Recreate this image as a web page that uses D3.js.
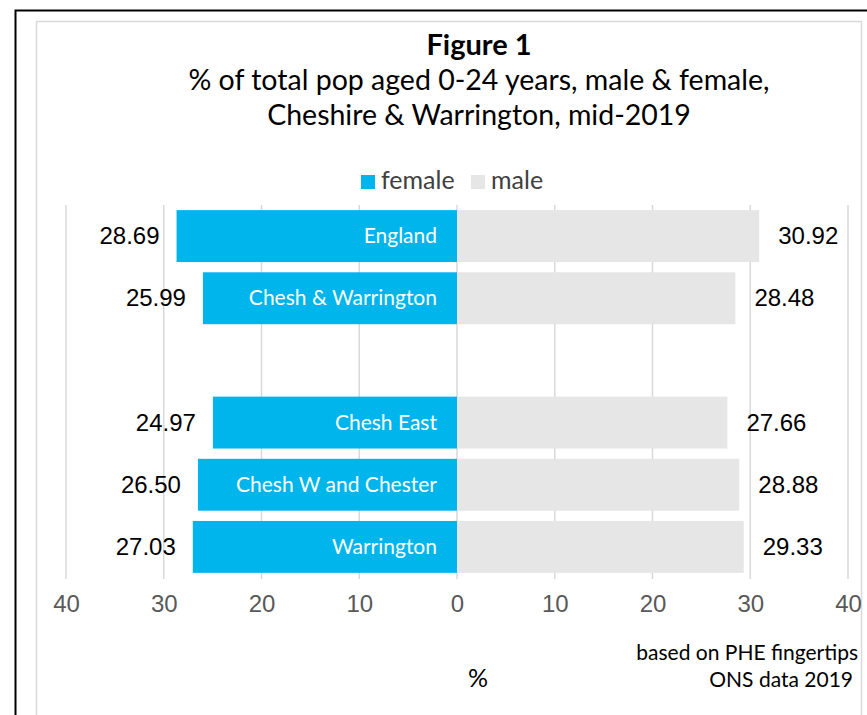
<!DOCTYPE html>
<html>
<head>
<meta charset="utf-8">
<script src="https://cdnjs.cloudflare.com/ajax/libs/d3/7.8.5/d3.min.js"></script>
<style>
body { margin: 0; background: #fff; }
svg { display: block; }
</style>
</head>
<body>
<script>
var categories = ["England", "Chesh & Warrington", "", "Chesh East", "Chesh W and Chester", "Warrington"];
var female = [28.69, 25.99, null, 24.97, 26.50, 27.03];
var male = [30.92, 28.48, null, 27.66, 28.88, 29.33];
var ticks = [-40, -30, -20, -10, 0, 10, 20, 30, 40];

var width = 867, height = 715;
var plot = {top: 205, bottom: 578, left: 66, right: 848};

var svg = d3.select("body")
	.append("svg")
		.attr("width", width)
		.attr("height", height);

// outer black frame + inner grey chart border
svg.append("path")
	.attr("d", "M15.5," + height + "V10.5H" + width)
	.attr("fill", "none")
	.attr("stroke", "#000")
	.attr("stroke-width", 2);
svg.append("rect")
	.attr("x", 36.5).attr("y", 21.5)
	.attr("width", 825).attr("height", 700)
	.attr("fill", "none")
	.attr("stroke", "#d9d9d9")
	.attr("stroke-width", 1.5);

var rows = categories.map((c, i) => { return {name: c, key: "c" + i, f: female[i], m: male[i]}; });

var x = d3.scaleLinear()
	.domain([-40, 40])
	.range([plot.left, plot.right]);

var y = d3.scaleBand()
	.domain(rows.map((d) => { return d.key; }))
	.range([plot.top, plot.bottom])
	.paddingInner(0.165)
	.paddingOuter(0.0825);

// gridlines
svg.append("g")
	.selectAll("line").data(ticks).enter()
	.append("line")
		.attr("x1", (d) => { return x(d); })
		.attr("x2", (d) => { return x(d); })
		.attr("y1", plot.top)
		.attr("y2", plot.bottom + 1)
		.attr("stroke", "#d9d9d9")
		.attr("stroke-width", 1.5);

// axis
var bottomAxis = d3.axisBottom(x)
	.tickValues(ticks)
	.tickSize(0)
	.tickPadding(17)
	.tickFormat((d) => { return Math.abs(d); });

var ax = svg.append("g")
	.attr("transform", "translate(0," + plot.bottom + ")")
	.call(bottomAxis);
ax.select(".domain").remove();
ax.selectAll("text")
	.attr("font-family", "'Liberation Sans', Arial, sans-serif")
	.attr("font-size", "24px")
	.attr("fill", "#595959");

var data = rows.filter((d) => { return d.f != null; });

// female bars
svg.selectAll("rect.female").data(data).enter()
	.append("rect")
		.attr("class", "female")
		.attr("x", (d) => { return x(-d.f); })
		.attr("y", (d) => { return y(d.key); })
		.attr("width", (d) => { return x(0) - x(-d.f); })
		.attr("height", y.bandwidth())
		.attr("fill", "#00b5eb");

// male bars
svg.selectAll("rect.male").data(data).enter()
	.append("rect")
		.attr("class", "male")
		.attr("x", x(0))
		.attr("y", (d) => { return y(d.key); })
		.attr("width", (d) => { return x(d.m) - x(0); })
		.attr("height", y.bandwidth())
		.attr("fill", "#e6e6e6");

// category labels inside female bars
svg.selectAll("text.cat").data(data).enter()
	.append("text")
		.attr("class", "cat")
		.attr("x", x(0) - 20)
		.attr("y", (d) => { return y(d.key) + y.bandwidth() / 2 + 7; })
		.attr("text-anchor", "end")
		.attr("font-family", "Lato, sans-serif")
		.attr("font-size", "21px")
		.attr("fill", "#fff")
		.text((d) => { return d.name; });

// value labels
svg.selectAll("text.fval").data(data).enter()
	.append("text")
		.attr("class", "fval")
		.attr("x", (d) => { return x(-d.f) - 17; })
		.attr("y", (d) => { return y(d.key) + y.bandwidth() / 2 + 8; })
		.attr("text-anchor", "end")
		.attr("font-family", "'Liberation Sans', Arial, sans-serif")
		.attr("font-size", "24px")
		.attr("fill", "#000")
		.text((d) => { return d.f.toFixed(2); });

svg.selectAll("text.mval").data(data).enter()
	.append("text")
		.attr("class", "mval")
		.attr("x", (d) => { return x(d.m) + 19; })
		.attr("y", (d) => { return y(d.key) + y.bandwidth() / 2 + 8; })
		.attr("text-anchor", "start")
		.attr("font-family", "'Liberation Sans', Arial, sans-serif")
		.attr("font-size", "24px")
		.attr("fill", "#000")
		.text((d) => { return d.m.toFixed(2); });

// titles
svg.append("text")
	.attr("x", 479).attr("y", 55)
	.attr("text-anchor", "middle")
	.attr("font-family", "Lato, sans-serif")
	.attr("font-weight", "bold")
	.attr("font-size", "29px")
	.text("Figure 1");
svg.append("text")
	.attr("x", 479).attr("y", 90)
	.attr("text-anchor", "middle")
	.attr("font-family", "Lato, sans-serif")
	.attr("font-size", "28.5px")
	.text("% of total pop aged 0-24 years, male & female,");
svg.append("text")
	.attr("x", 479).attr("y", 125)
	.attr("text-anchor", "middle")
	.attr("font-family", "Lato, sans-serif")
	.attr("font-size", "28.5px")
	.text("Cheshire & Warrington, mid-2019");

// legend
var legend = [{label: "female", color: "#00b5eb", x: 361}, {label: "male", color: "#e6e6e6", x: 471}];
var lg = svg.selectAll("g.legend").data(legend).enter()
	.append("g")
		.attr("class", "legend")
		.attr("transform", (d) => { return "translate(" + d.x + ",175)"; });
lg.append("rect")
	.attr("width", 14).attr("height", 14)
	.attr("fill", (d) => { return d.color; });
lg.append("text")
	.attr("x", 20).attr("y", 14)
	.attr("font-family", "Lato, sans-serif")
	.attr("font-size", "25px")
	.attr("fill", "#404040")
	.text((d) => { return d.label; });

// axis title and source
svg.append("text")
	.attr("x", 478).attr("y", 687)
	.attr("text-anchor", "middle")
	.attr("font-family", "Lato, sans-serif")
	.attr("font-size", "25px")
	.text("%");
svg.append("text")
	.attr("x", 858).attr("y", 660)
	.attr("text-anchor", "end")
	.attr("font-family", "Lato, sans-serif")
	.attr("font-size", "21px")
	.text("based on PHE fingertips");
svg.append("text")
	.attr("x", 853).attr("y", 687)
	.attr("text-anchor", "end")
	.attr("font-family", "Lato, sans-serif")
	.attr("font-size", "21px")
	.text("ONS data 2019");
</script>
</body>
</html>
